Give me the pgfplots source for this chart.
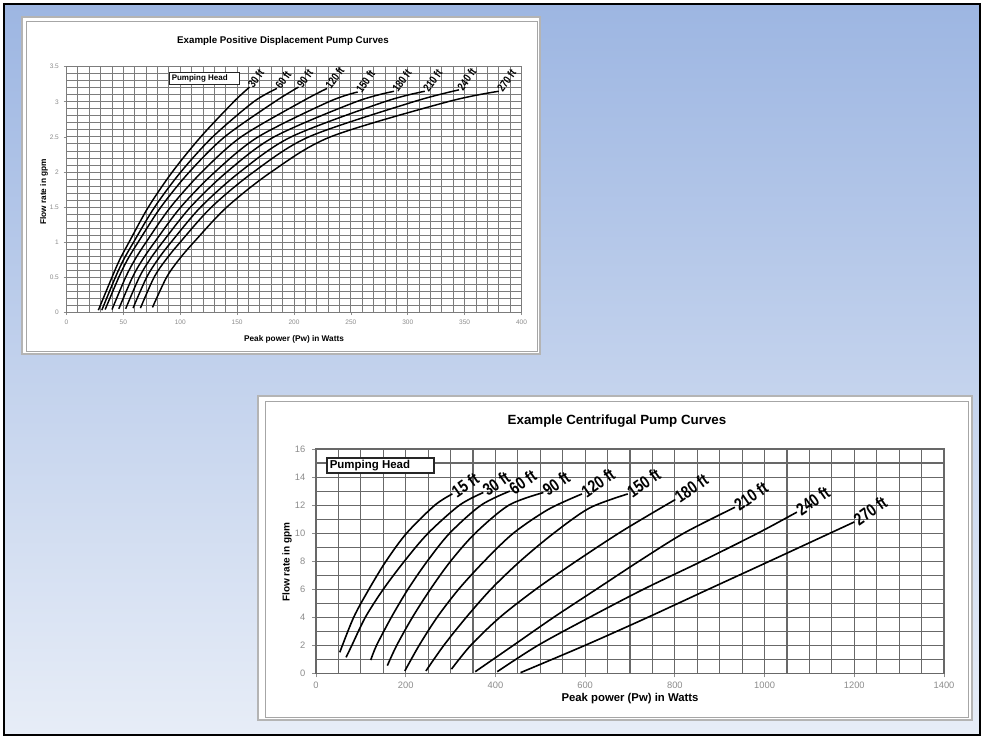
\documentclass[border=0pt]{standalone}
\usepackage{fontspec}
\setmainfont{Liberation Sans}
\newfontfamily\narrow[FakeStretch=0.8]{Liberation Sans}
\usepackage{pgfplots}
\pgfplotsset{compat=1.18}
\definecolor{bgtop}{HTML}{9DB6E2}
\definecolor{bgbot}{HTML}{E7EDF7}
\definecolor{gridA}{HTML}{7C7C7C}
\definecolor{gridB}{HTML}{686868}
\definecolor{tickc}{HTML}{8C8C8C}
\definecolor{cardedge}{HTML}{B4B4B4}
\newcommand{\fs}[1]{\fontsize{#1}{#1}\selectfont}
\tikzset{
  lblA/.style={anchor=west, rotate=54, inner sep=0.5pt, font=\narrow\bfseries\fs{8.5}, text=black},
  lblB/.style={anchor=west, rotate=35, inner sep=0.5pt, font=\narrow\bfseries\fs{13}, text=black},
  crvA/.style={black, line width=1.1pt, mark=none, smooth},
  crvB/.style={black, line width=1.2pt, mark=none, smooth},
}
\begin{document}
\begin{tikzpicture}[x=0.75pt,y=-0.75pt]
\useasboundingbox (0,0) rectangle (984,736);
\fill[white] (0,0) rectangle (984,736);
\shade[top color=bgtop, bottom color=bgbot] (4,4) rectangle (980,735);
\draw[black, line width=2pt] (4,4) rectangle (980,735);
% cards
\filldraw[fill=white, draw=cardedge, line width=1.5pt] (22,17) rectangle (540,354);
\draw[gray!70, line width=0.75pt] (26,21) rectangle (537,351);
\filldraw[fill=white, draw=cardedge, line width=1.5pt] (258,396) rectangle (972,720);
\draw[gray!70, line width=0.75pt] (265,401) rectangle (968,717);

% ---------- Chart 1 ----------
\begin{axis}[
  at={(49.875pt,-234.225pt)}, anchor=south west,
  scale only axis, width=341.25pt, height=184.2pt,
  xmin=0, xmax=400, ymin=0, ymax=3.5,
  xtick={0,50,...,400}, ytick={0,0.5,1,1.5,2,2.5,3,3.5},
  minor x tick num=4, minor y tick num=4,
  grid=both,
  grid style={gridA, line width=0.62pt},
  axis line style={gridA, line width=0.65pt},
  tick pos=left, tick align=outside,
  major tick length=2.2pt, minor tick length=0pt,
  tick style={tickc, line width=0.5pt},
  ticklabel style={font=\fs{4.9}, text=tickc},
  /pgf/number format/assume math mode=true,
  clip=false,
]
\addplot[crvA] coordinates {(28,0.03) (40,0.5) (46.75,0.75) (55,1.0) (72,1.5) (93,2.0) (118,2.5) (147,3.0) (161,3.21)} node[pos=1,lblA]{30 ft};
\addplot[crvA] coordinates {(31,0.03) (43,0.5) (50.2,0.75) (59,1.0) (77.5,1.5) (100.5,2.0) (128.5,2.5) (164.5,3.0) (185,3.19)} node[pos=1,lblA]{60 ft};
\addplot[crvA] coordinates {(34,0.04) (46,0.5) (53.6,0.75) (63,1.0) (83,1.5) (108,2.0) (139,2.5) (183,3.0) (204,3.21)} node[pos=1,lblA]{90 ft};
\addplot[crvA] coordinates {(40,0.04) (52,0.5) (60.1,0.75) (70,1.0) (91.5,1.5) (119,2.0) (153.5,2.5) (206.5,3.0) (229,3.19)} node[pos=1,lblA]{120 ft};
\addplot[crvA] coordinates {(46,0.05) (58,0.5) (66.8,0.75) (77.5,1.0) (100.5,1.5) (130.5,2.0) (168.5,2.5) (230.5,3.0) (256,3.14)} node[pos=1,lblA]{150 ft};
\addplot[crvA] coordinates {(52,0.05) (64,0.5) (73.2,0.75) (84.5,1.0) (109,1.5) (141,2.0) (182.5,2.5) (254.5,3.0) (288,3.15)} node[pos=1,lblA]{180 ft};
\addplot[crvA] coordinates {(58.5,0.06) (70.5,0.5) (80.2,0.75) (92,1.0) (118,1.5) (152.5,2.0) (197.5,2.5) (279.5,3.0) (315,3.15)} node[pos=1,lblA]{210 ft};
\addplot[crvA] coordinates {(65,0.06) (77,0.5) (87.4,0.75) (100,1.0) (127.5,1.5) (164.5,2.0) (213,2.5) (305,3.0) (345,3.17)} node[pos=1,lblA]{240 ft};
\addplot[crvA] coordinates {(75.6,0.07) (88,0.5) (98.8,0.75) (112,1.0) (141,1.5) (180,2.0) (232,2.5) (335,3.0) (380,3.15)} node[pos=1,lblA]{270 ft};
\end{axis}

% ---------- Chart 2 ----------
\begin{axis}[
  at={(237pt,-505.0pt)}, anchor=south west,
  scale only axis, width=471pt, height=168.2pt,
  xmin=0, xmax=1400, ymin=0, ymax=16,
  xtick={0,200,...,1400}, ytick={0,2,...,16},
  minor x tick num=3, minor y tick num=1,
  grid=both,
  grid style={gridB, line width=0.9pt},
  axis line style={gridB, line width=0.95pt},
  tick pos=left, tick align=outside,
  major tick length=3pt, minor tick length=0pt,
  tick style={tickc, line width=0.6pt},
  ticklabel style={font=\fs{7}, text=tickc},
  yticklabel style={xshift=-1.5pt},
  /pgf/number format/assume math mode=true,
  /pgf/number format/1000 sep={},
  clip=false,
]
\addplot[crvB] coordinates {(53,1.5) (84,4) (118,6) (156,8) (202,10) (265,12) (304,12.8)} node[pos=1,lblB]{15 ft};
\addplot[crvB] coordinates {(67,1.14) (80,2) (110,4) (150,6) (197,8) (250,10) (320,12) (373,12.9)} node[pos=1,lblB]{30 ft};
\addplot[crvB] coordinates {(122,0.95) (135,2) (168,4) (205,6) (248,8) (298,10) (368,12) (432,13)} node[pos=1,lblB]{60 ft};
\addplot[crvB] coordinates {(159,0.55) (180,2) (215,4) (255,6) (300,8) (355,10) (430,12) (507,12.9)} node[pos=1,lblB]{90 ft};
\addplot[crvB] coordinates {(198,0.17) (230,2) (270,4) (318,6) (375,8) (440,10) (518,11.7) (593,12.8)} node[pos=1,lblB]{120 ft};
\addplot[crvB] coordinates {(245,0.17) (285,2) (335,4) (390,6) (455,8) (530,10) (610,11.8) (695,12.8)} node[pos=1,lblB]{150 ft};
\addplot[crvB] coordinates {(302,0.3) (345,2) (410,4) (490,6) (580,8) (675,10) (745,11.35) (801,12.4)} node[pos=1,lblB]{180 ft};
\addplot[crvB] coordinates {(355,0.12) (440,2) (530,4) (625,6) (720,8) (820,10) (934,11.85)} node[pos=1,lblB]{210 ft};
\addplot[crvB] coordinates {(404,0.12) (495,2) (610,4) (730,6) (860,8) (985,10) (1072,11.5)} node[pos=1,lblB]{240 ft};
\addplot[crvB] coordinates {(456,0.05) (600,2) (740,4) (875,6) (1011,8) (1200,10.8)} node[pos=1,lblB]{270 ft};
\end{axis}

% titles and labels
\node[font=\bfseries\fs{7.3}] at (283,41) {Example Positive Displacement Pump Curves};
\node[font=\bfseries\fs{6.2}, rotate=90] at (44,192) {Flow rate in gpm};
\node[font=\bfseries\fs{6.2}] at (294,339) {Peak power (Pw) in Watts};
\node[font=\bfseries\fs{10}] at (617,421) {Example Centrifugal Pump Curves};
\node[font=\bfseries\fs{7.5}, rotate=90] at (287,562) {Flow rate in gpm};
\node[font=\bfseries\fs{8.5}] at (630,699) {Peak power (Pw) in Watts};
% Pumping head boxes
\filldraw[fill=white, draw=black!85, line width=0.7pt] (169.5,72) rectangle (239,84);
\node[font=\bfseries\fs{6}, anchor=west, inner sep=0] at (171.5,78) {Pumping Head};
\filldraw[fill=white, draw=black!85, line width=0.9pt] (327,458) rectangle (434,473);
\node[font=\bfseries\fs{8.6}, anchor=west, inner sep=0] at (329.5,465.5) {Pumping Head};
\end{tikzpicture}
\end{document}
